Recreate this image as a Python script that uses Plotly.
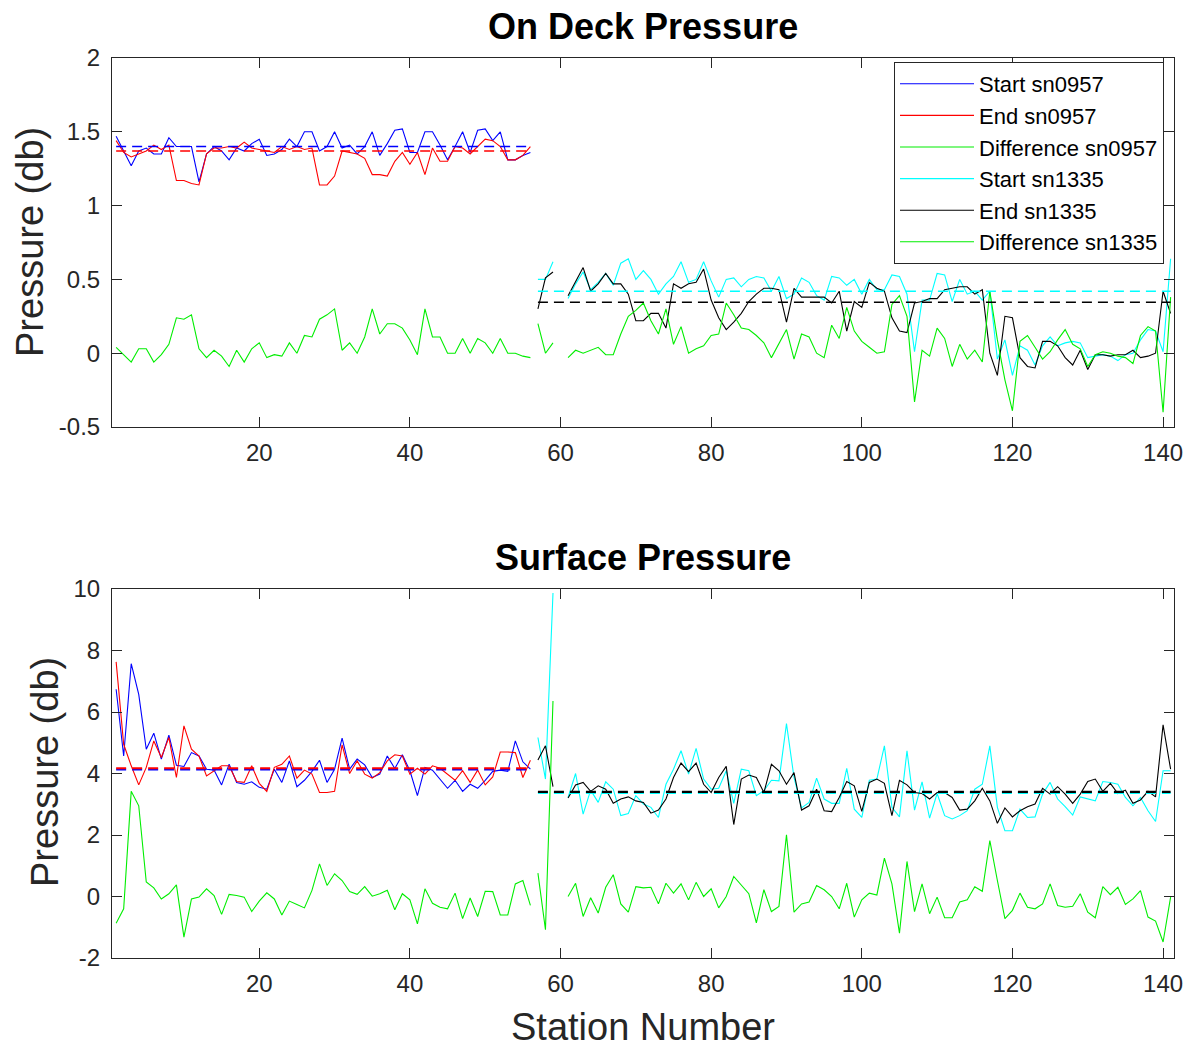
import plotly.graph_objects as go

# ---------------- data ----------------
stations_0957 = list(range(1, 57))
stations_1335 = list(range(57, 142))

# On Deck Pressure (top panel)
start_0957_top = [1.47,1.37,1.27,1.37,1.39,1.35,1.35,1.46,1.40,1.40,1.40,1.16,1.35,1.40,1.37,1.31,1.39,1.37,1.42,1.45,
                  1.34,1.35,1.38,1.45,1.40,1.50,1.50,1.37,1.40,1.50,1.39,1.41,1.35,1.40,1.50,1.34,1.42,1.51,1.52,1.36,
                  1.36,1.50,1.50,1.41,1.31,1.40,1.50,1.36,1.51,1.52,1.44,1.50,1.31,1.31,1.34,1.36]
end_0957_top = [1.44,1.36,1.33,1.35,1.37,1.41,1.38,1.41,1.17,1.17,1.15,1.14,1.35,1.39,1.39,1.40,1.39,1.43,1.39,1.38,
                1.37,1.36,1.40,1.38,1.40,1.38,1.39,1.14,1.14,1.20,1.37,1.36,1.35,1.32,1.21,1.21,1.20,1.30,1.36,1.28,
                1.36,1.21,1.39,1.30,1.30,1.40,1.39,1.35,1.40,1.45,1.44,1.40,1.31,1.31,1.34,1.40]
diff_0957_top = [0.04,-0.01,-0.06,0.03,0.03,-0.06,-0.01,0.06,0.24,0.23,0.26,0.03,-0.03,0.02,-0.02,-0.09,0.02,-0.06,0.03,0.07,
                 -0.03,-0.01,-0.02,0.07,0.00,0.12,0.11,0.23,0.26,0.30,0.02,0.07,0.00,0.11,0.30,0.13,0.20,0.20,0.17,0.09,
                 -0.01,0.30,0.11,0.11,0.00,0.00,0.10,0.00,0.10,0.07,0.00,0.10,0.00,0.00,-0.02,-0.03]
start_1335_top = [0.50,0.50,0.62,None,0.37,0.47,0.55,0.43,0.48,0.54,0.46,0.61,0.64,0.50,0.56,0.50,0.40,0.47,0.52,0.62,
                  0.48,0.50,0.62,0.49,0.38,0.50,0.51,0.45,0.50,0.52,0.51,0.42,0.52,0.37,0.40,0.51,0.48,0.39,0.36,0.52,
                  0.51,0.46,0.50,0.40,0.50,0.43,0.43,0.53,0.52,0.40,0.01,0.36,0.36,0.54,0.53,0.35,0.50,0.40,0.42,0.36,
                  0.42,-0.04,0.09,-0.15,0.05,0.02,-0.08,0.05,0.11,0.05,0.07,0.08,0.07,-0.03,-0.02,-0.01,-0.02,-0.05,-0.01,0.00,
                  0.09,0.16,0.15,0.01,0.64]
end_1335_top = [0.30,0.51,0.55,None,0.39,0.48,0.58,0.42,0.47,0.54,0.47,0.47,0.40,0.22,0.22,0.27,0.27,0.17,0.47,0.44,
                0.47,0.48,0.57,0.36,0.24,0.16,0.21,0.27,0.35,0.40,0.44,0.44,0.43,0.21,0.44,0.38,0.38,0.38,0.38,0.34,
                0.42,0.15,0.35,0.31,0.48,0.44,0.42,0.24,0.15,0.14,0.34,0.35,0.37,0.37,0.43,0.44,0.45,0.45,0.40,0.43,
                0.00,-0.15,0.25,0.24,-0.03,-0.09,-0.10,0.08,0.08,0.05,-0.03,-0.08,0.02,-0.11,-0.01,-0.01,-0.02,-0.01,-0.01,0.02,
                -0.03,-0.02,0.00,0.42,0.27]
diff_1335_top = [0.20,0.00,0.07,None,-0.03,0.02,0.00,0.02,0.04,-0.01,-0.01,0.13,0.25,0.29,0.34,0.22,0.13,0.30,0.06,0.18,
                 0.00,0.03,0.05,0.12,0.13,0.34,0.26,0.17,0.16,0.12,0.07,-0.03,0.07,0.16,-0.04,0.13,0.11,0.00,-0.03,0.19,
                 0.10,0.31,0.15,0.08,0.04,0.00,0.01,0.33,0.39,0.25,-0.33,0.02,-0.02,0.17,0.10,-0.09,0.06,-0.04,0.02,-0.06,
                 0.42,0.09,-0.18,-0.39,0.08,0.12,0.04,-0.04,0.01,0.09,0.16,0.06,0.03,-0.09,-0.01,0.01,0.00,-0.02,-0.03,-0.07,
                 0.12,0.18,0.15,-0.40,0.38]
mean_start_0957_top = 1.40
mean_end_0957_top = 1.37
mean_start_1335_top = 0.42
mean_end_1335_top = 0.345

# Surface Pressure (bottom panel)
start_0957_bot = [6.74,4.57,7.57,6.57,4.79,5.31,4.47,5.25,4.27,4.23,4.68,4.57,4.14,4.11,3.63,4.30,3.71,3.65,3.73,3.55,
                  3.49,4.14,3.71,4.41,3.57,3.78,4.07,4.43,3.71,4.14,5.15,4.14,4.47,4.28,3.87,3.98,4.57,4.16,4.61,4.09,
                  3.28,4.20,4.11,3.82,3.52,3.78,3.42,3.65,3.52,3.78,4.07,4.11,4.07,5.06,4.38,4.14]
end_0957_bot = [7.63,4.95,4.25,3.63,4.20,5.06,4.52,5.17,3.87,5.55,4.79,4.57,3.92,4.09,4.25,4.25,3.74,3.71,4.25,3.68,
                3.42,4.20,4.30,4.57,3.85,4.11,3.98,3.38,3.38,3.42,4.93,4.00,4.41,3.98,3.85,4.03,4.41,4.61,4.57,3.98,
                4.17,3.98,4.25,4.17,3.98,3.78,4.09,3.71,4.11,3.63,3.89,4.70,4.70,4.68,3.87,4.43]
diff_0957_bot = [-0.87,-0.40,3.42,2.95,0.47,0.28,-0.08,0.09,0.38,-1.32,-0.08,-0.02,0.25,0.03,-0.58,0.07,0.03,-0.02,-0.49,-0.15,
                 0.12,-0.08,-0.60,-0.15,-0.26,-0.37,0.20,1.06,0.36,0.74,0.52,0.16,0.07,0.32,0.01,0.09,0.20,-0.43,0.09,-0.11,
                 -0.89,0.25,-0.22,-0.35,-0.40,0.11,-0.72,-0.05,-0.65,0.17,0.16,-0.60,-0.60,0.41,0.52,-0.29]
start_1335_bot = [5.17,3.82,9.87,None,3.22,4.00,2.68,3.46,3.06,3.73,3.49,2.63,2.70,3.28,3.01,2.90,2.57,3.65,4.14,4.74,
                  3.98,4.82,3.82,3.49,3.52,4.09,3.03,4.14,4.09,3.28,3.44,3.78,3.76,5.62,3.87,2.88,3.06,3.85,3.17,3.03,
                  3.03,4.17,2.84,2.57,3.78,3.82,4.90,2.90,2.59,4.74,2.81,3.73,2.55,3.35,2.63,2.52,2.63,2.79,3.49,3.65,
                  4.90,2.90,2.14,2.14,2.84,2.57,2.59,3.33,3.71,3.17,2.92,2.65,3.24,3.17,3.11,3.74,3.71,3.65,3.22,2.95,
                  3.22,2.79,2.44,4.09,4.09]
end_1335_bot = [4.44,4.90,3.57,None,3.20,3.63,3.71,3.42,3.60,3.49,3.03,3.17,3.24,3.11,3.06,2.71,2.81,3.17,3.87,4.34,
                4.06,4.34,3.65,3.38,3.87,4.23,2.34,3.82,3.95,3.87,3.38,4.30,4.09,3.65,4.03,2.81,2.95,3.49,2.79,2.76,
                3.22,3.74,3.60,2.77,3.71,3.82,3.68,2.63,3.78,3.63,3.38,3.35,3.17,3.38,3.38,3.22,2.81,2.84,3.11,3.52,
                3.11,2.38,2.88,2.59,2.79,2.92,3.01,3.52,3.33,3.57,3.33,3.03,3.33,3.74,3.82,3.42,3.68,3.35,3.46,3.03,
                3.14,3.42,3.24,5.58,4.14]
diff_1335_bot = [0.76,-1.08,6.36,None,0.00,0.43,-0.65,-0.04,-0.54,0.30,0.71,-0.24,-0.51,0.32,0.28,0.30,-0.24,0.43,0.11,0.41,
                 -0.11,0.46,0.00,0.25,-0.37,0.00,0.65,0.36,0.09,-0.86,0.22,-0.49,-0.32,2.01,-0.51,-0.24,-0.18,0.36,0.22,0.00,
                 -0.40,0.43,-0.67,-0.11,0.11,0.05,1.25,0.41,-1.19,1.14,-0.49,0.41,-0.56,-0.02,-0.69,-0.69,-0.18,-0.11,0.32,0.17,
                 1.82,0.52,-0.72,-0.45,0.11,-0.35,-0.40,-0.24,0.41,-0.29,-0.35,-0.32,0.09,-0.51,-0.69,0.32,0.06,0.30,-0.26,-0.08,
                 0.19,-0.67,-0.80,-1.48,-0.02]
mean_start_0957_bot = 4.13
mean_end_0957_bot = 4.17
mean_start_1335_bot = 3.37
mean_end_1335_bot = 3.40

x_ticks = [20, 40, 60, 80, 100, 120, 140]
y_ticks_top = [-0.5, 0, 0.5, 1, 1.5, 2]
y_ticks_top_text = ["-0.5", "0", "0.5", "1", "1.5", "2"]
y_ticks_bot = [-2, 0, 2, 4, 6, 8, 10]
y_ticks_bot_text = ["-2", "0", "2", "4", "6", "8", "10"]

names = ["Start sn0957", "End sn0957", "Difference sn0957", "Start sn1335", "End sn1335", "Difference sn1335"]
colors = ["#0000ff", "#ff0000", "#00ee00", "#00ffff", "#000000", "#00ee00"]

# ---------------- figure ----------------
fig = go.Figure()
W, H = 1194, 1049
FONT = "Liberation Sans, Arial, Helvetica, sans-serif"
AX = "#262626"

def add_panel(xa, ya, series, means, show_legend, dash_w):
    for i, (xs, ys) in enumerate(series):
        fig.add_trace(go.Scatter(x=xs, y=ys, mode="lines", name=names[i],
                                 line=dict(color=colors[i], width=1.1),
                                 connectgaps=False, showlegend=show_legend,
                                 xaxis=xa, yaxis=ya, hoverinfo="x+y"))
    for (xs, m, c) in means:
        fig.add_trace(go.Scatter(x=[xs[0], xs[-1]], y=[m, m], mode="lines",
                                 line=dict(color=c, width=dash_w, dash="10px,6px"),
                                 showlegend=False, xaxis=xa, yaxis=ya, hoverinfo="skip"))

add_panel("x", "y",
          [(stations_0957, start_0957_top), (stations_0957, end_0957_top), (stations_0957, diff_0957_top),
           (stations_1335, start_1335_top), (stations_1335, end_1335_top), (stations_1335, diff_1335_top)],
          [(stations_0957, mean_start_0957_top, "#0000ff"), (stations_0957, mean_end_0957_top, "#ff0000"),
           (stations_1335, mean_start_1335_top, "#00ffff"), (stations_1335, mean_end_1335_top, "#000000")],
          True, 1.4)
add_panel("x2", "y2",
          [(stations_0957, start_0957_bot), (stations_0957, end_0957_bot), (stations_0957, diff_0957_bot),
           (stations_1335, start_1335_bot), (stations_1335, end_1335_bot), (stations_1335, diff_1335_bot)],
          [(stations_0957, mean_start_0957_bot, "#0000ff"), (stations_0957, mean_end_0957_bot, "#ff0000"),
           (stations_1335, mean_start_1335_bot, "#00ffff"), (stations_1335, mean_end_1335_bot, "#000000")],
          False, 2.2)

def px_x(p):
    return p / W

def px_y(p):
    return 1 - p / H

xdom = [px_x(112), px_x(1174)]
common_x = dict(range=[0.45, 141.45], tickvals=x_ticks, ticks="inside", ticklen=10, tickcolor=AX,
                showline=True, linecolor=AX, linewidth=1, mirror="ticks", showgrid=False, zeroline=False,
                tickfont=dict(family=FONT, size=24, color=AX), ticklabelstandoff=4)
common_y = dict(ticks="inside", ticklen=10, tickcolor=AX, showline=True, linecolor=AX, linewidth=1,
                mirror="ticks", showgrid=False, zeroline=False,
                tickfont=dict(family=FONT, size=24, color=AX), ticklabelstandoff=6)

fig.update_layout(
    width=W, height=H, margin=dict(l=0, r=0, t=0, b=0, autoexpand=False),
    paper_bgcolor="white", plot_bgcolor="white",
    xaxis=dict(domain=xdom, anchor="y", **common_x),
    yaxis=dict(domain=[px_y(427), px_y(58)], anchor="x", range=[-0.5, 2],
               tickvals=y_ticks_top, ticktext=y_ticks_top_text, **common_y),
    xaxis2=dict(domain=xdom, anchor="y2", **common_x),
    yaxis2=dict(domain=[px_y(958), px_y(589)], anchor="x2", range=[-2, 10],
                tickvals=y_ticks_bot, ticktext=y_ticks_bot_text, **common_y),
    legend=dict(x=px_x(1164), xanchor="right", y=px_y(62), yanchor="top",
                bgcolor="white", bordercolor=AX, borderwidth=1,
                font=dict(family=FONT, size=22, color="#000000"),
                itemwidth=74, tracegroupgap=0),
    showlegend=True,
)

annots = [
    dict(text="<b>On Deck Pressure</b>", x=px_x(643), y=px_y(27), font=dict(size=36, color="#000000")),
    dict(text="<b>Surface Pressure</b>", x=px_x(643), y=px_y(557), font=dict(size=36, color="#000000")),
    dict(text="Pressure (db)", x=px_x(30), y=px_y(242), textangle=-90, font=dict(size=38, color=AX)),
    dict(text="Pressure (db)", x=px_x(45), y=px_y(772), textangle=-90, font=dict(size=38, color=AX)),
    dict(text="Station Number", x=px_x(643), y=px_y(1027), font=dict(size=38, color=AX)),
]
for a in annots:
    a.update(xref="paper", yref="paper", showarrow=False, xanchor="center", yanchor="middle")
    a["font"]["family"] = FONT
    fig.add_annotation(**a)

fig.write_html("out.html")
